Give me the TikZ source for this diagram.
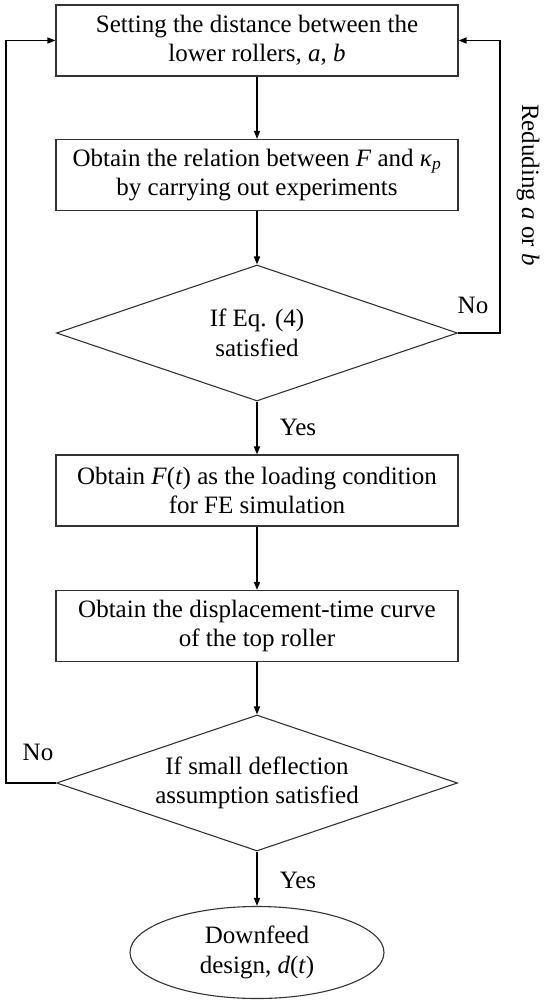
\documentclass[tikz,border=0pt]{standalone}
\usepackage{fontspec}
\setmainfont{Liberation Serif}
\usepackage{tikz}
\usetikzlibrary{arrows.meta, shapes.geometric}

\begin{document}
\begin{tikzpicture}[x=1pt, y=-1pt, >={Triangle[length=8pt, width=6pt]},
  every node/.style={font=\fontsize{25}{29.5}\selectfont, align=center},
  stepbox/.style={draw=black!80, line width=1.1pt, minimum width=402pt, minimum height=71pt, inner sep=0pt},
  testbox/.style={diamond, draw=black!80, line width=1.1pt, aspect=2.94, minimum width=401pt, minimum height=136pt, inner sep=0pt},
  endbox/.style={ellipse, draw=black!80, line width=1.1pt, minimum width=254pt, minimum height=92pt, inner sep=0pt},
  flow/.style={->, line width=1.4pt}]
  \useasboundingbox (0,0) rectangle (550,1008);

  \node[stepbox] (set) at (257,40.5) {Setting the distance between the\\lower rollers, \textit{a}, \textit{b}};
  \node[stepbox] (exp) at (257,175) {Obtain the relation between \textit{F} and \textit{κ}\textsubscript{\textit{p}}\\by carrying out experiments};
  \node[testbox] (eq) at (257,333) {If Eq. (4)\\satisfied};
  \node[stepbox] (load) at (257,490.5) {Obtain \textit{F}(\textit{t}) as the loading condition\\for FE simulation};
  \node[stepbox] (disp) at (257,626) {Obtain the displacement-time curve\\of the top roller};
  \node[testbox] (defl) at (257,783) {If small deflection\\assumption satisfied};
  \node[endbox] (down) at (257,952.5) {Downfeed\\design, \textit{d}(\textit{t})};

  \coordinate (rtop) at (500,40.5);
  \coordinate (rbot) at (500,333);
  \coordinate (ltop) at (6,40.5);
  \coordinate (lbot) at (6,783);

  \draw[flow] (set) -- (exp);
  \draw[flow] (exp) -- (eq);
  \draw[flow] (eq) -- (load);
  \draw[flow] (load) -- (disp);
  \draw[flow] (disp) -- (defl);
  \draw[flow] (defl) -- (down);
  \draw[flow] (eq.east) -- (rbot) -- (rtop) -- (set.east);
  \draw[flow] (defl.west) -- (lbot) -- (ltop) -- (set.west);

  \node (yes1) at (298,427) {Yes};
  \node (yes2) at (298,880) {Yes};
  \node (no1) at (473,305) {No};
  \node (no2) at (38,752) {No};
  \node[rotate=-90] (redu) at (528,185) {Reduding \textit{a} or \textit{b}};
\end{tikzpicture}
\end{document}
